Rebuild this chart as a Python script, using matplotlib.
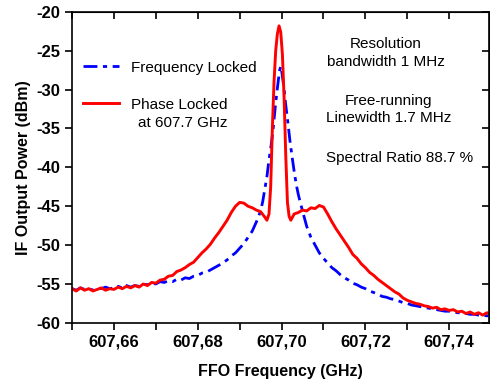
import matplotlib
matplotlib.use("Agg")
import matplotlib.pyplot as plt

plt.rcParams['font.family'] = ['Liberation Sans', 'DejaVu Sans']
plt.rcParams['axes.unicode_minus'] = False

# Frequency locked (blue, dash-dot)
freq_fl = [607.650, 607.651, 607.652, 607.653, 607.654, 607.655, 607.656, 607.657, 607.658, 607.659,
           607.660, 607.661, 607.662, 607.663, 607.664, 607.665, 607.666, 607.667, 607.668, 607.669,
           607.670, 607.671, 607.672, 607.673, 607.674, 607.675, 607.676, 607.677, 607.678, 607.679,
           607.680, 607.681, 607.682, 607.683, 607.684, 607.685, 607.686, 607.687, 607.688, 607.689,
           607.690, 607.691, 607.692, 607.693, 607.694, 607.695, 607.6955, 607.696, 607.6965, 607.697,
           607.6975, 607.698, 607.6985, 607.699, 607.6995, 607.6998, 607.7000, 607.7005, 607.701, 607.7015,
           607.702, 607.7025, 607.703, 607.7035, 607.704, 607.7045, 607.705, 607.7055, 607.706, 607.707,
           607.708, 607.709, 607.710, 607.711, 607.712, 607.713, 607.714, 607.715, 607.716, 607.717,
           607.718, 607.719, 607.720, 607.721, 607.722, 607.723, 607.724, 607.725, 607.726, 607.727,
           607.728, 607.729, 607.730, 607.731, 607.732, 607.733, 607.734, 607.735, 607.736, 607.737,
           607.738, 607.739, 607.740, 607.741, 607.742, 607.743, 607.744, 607.745, 607.746, 607.747,
           607.748, 607.749, 607.750]
power_fl = [-55.6, -55.8, -55.5, -55.7, -55.6, -55.8, -55.5, -55.6, -55.4, -55.6,
            -55.5, -55.3, -55.5, -55.2, -55.4, -55.2, -55.3, -55.0, -55.1, -54.9,
            -55.0, -54.7, -54.8, -54.6, -54.7, -54.4, -54.5, -54.2, -54.3, -54.0,
            -53.9, -53.6, -53.5, -53.2, -52.9, -52.6, -52.3, -51.9, -51.4, -51.0,
            -50.4, -49.8, -49.0, -48.2, -47.0, -45.6, -44.4, -42.8, -41.2, -39.0,
            -37.2, -35.0, -32.2, -29.8, -27.6, -27.0, -27.5, -29.5, -32.0, -34.2,
            -36.6, -38.6, -40.5, -42.2, -43.5, -44.6, -45.6, -46.6, -47.6, -49.0,
            -50.0, -51.0, -51.7, -52.3, -52.9, -53.3, -53.8, -54.2, -54.5, -54.9,
            -55.1, -55.4, -55.6, -55.9, -56.1, -56.3, -56.6, -56.7, -56.9, -57.0,
            -57.2, -57.4, -57.5, -57.7, -57.8, -57.9, -58.0, -58.1, -58.2, -58.3,
            -58.4, -58.5, -58.5, -58.6, -58.7, -58.7, -58.8, -58.9, -58.9, -59.0,
            -59.0, -59.1, -59.0]

# Phase locked (red, solid)
freq_pl = [607.650, 607.651, 607.652, 607.653, 607.654, 607.655, 607.656, 607.657, 607.658, 607.659,
           607.660, 607.661, 607.662, 607.663, 607.664, 607.665, 607.666, 607.667, 607.668, 607.669,
           607.670, 607.671, 607.672, 607.673, 607.674, 607.675, 607.676, 607.677, 607.678, 607.679,
           607.680, 607.681, 607.682, 607.683, 607.684, 607.685, 607.686, 607.687, 607.688, 607.689,
           607.690, 607.691, 607.692, 607.693, 607.694, 607.695, 607.6960, 607.6965, 607.6970, 607.6974,
           607.6978, 607.6982, 607.6986, 607.6990, 607.6994, 607.6998, 607.7002, 607.7006, 607.7010, 607.7014,
           607.7018, 607.7022, 607.7026, 607.703, 607.704, 607.705, 607.706, 607.707, 607.708, 607.709,
           607.710, 607.711, 607.712, 607.713, 607.714, 607.715, 607.716, 607.717, 607.718, 607.719,
           607.720, 607.721, 607.722, 607.723, 607.724, 607.725, 607.726, 607.727, 607.728, 607.729,
           607.730, 607.731, 607.732, 607.733, 607.734, 607.735, 607.736, 607.737, 607.738, 607.739,
           607.740, 607.741, 607.742, 607.743, 607.744, 607.745, 607.746, 607.747, 607.748, 607.749,
           607.750]
power_pl = [-55.6, -55.9, -55.5, -55.8, -55.6, -55.9, -55.7, -55.5, -55.8, -55.6,
            -55.7, -55.4, -55.6, -55.3, -55.5, -55.2, -55.4, -55.0, -55.2, -54.8,
            -54.9, -54.5, -54.4, -54.0, -53.9, -53.4, -53.2, -52.9, -52.5, -52.2,
            -51.6, -51.0, -50.5, -49.9, -49.1, -48.4, -47.6, -46.8, -45.8, -45.0,
            -44.5, -44.6, -45.0, -45.2, -45.5, -45.7, -46.4, -46.8, -46.0, -42.5,
            -35.0, -29.0, -25.0, -22.8, -21.8, -22.6, -25.5, -31.0, -38.5, -44.5,
            -46.3, -46.8, -46.4, -46.0, -45.8, -45.5, -45.6, -45.2, -45.3, -44.9,
            -45.1, -46.0, -47.0, -47.9, -48.7, -49.5, -50.3, -51.2, -51.7, -52.4,
            -52.9, -53.5, -53.9, -54.4, -54.8, -55.2, -55.6, -56.0, -56.3, -56.8,
            -57.1, -57.3, -57.5, -57.6, -57.8, -57.9, -58.1, -58.0, -58.3, -58.2,
            -58.4, -58.3, -58.6, -58.5, -58.8, -58.6, -58.9, -58.7, -59.0, -58.7,
            -58.8]

x_ticks = [607.65, 607.66, 607.67, 607.68, 607.69, 607.70, 607.71, 607.72, 607.73, 607.74]
x_labels = ['', '607,66', '', '607,68', '', '607,70', '', '607,72', '', '607,74']
y_ticks = [-60, -55, -50, -45, -40, -35, -30, -25, -20]

fig = plt.figure(figsize=(4.9, 3.83), dpi=100)
ax = fig.add_axes([0.147, 0.157, 0.851, 0.812])

ax.plot(freq_fl, power_fl, color='#0000ff', lw=2.0, dashes=(5, 2, 1.5, 2),
        label='Frequency Locked')
ax.plot(freq_pl, power_pl, color='#ff0000', lw=2.1, label='Phase Locked')

ax.set_xlim(607.65, 607.7495)
ax.set_ylim(-60, -20)
ax.set_xticks(x_ticks)
ax.set_xticklabels(x_labels)
ax.set_yticks(y_ticks)
ax.tick_params(direction='out', length=5, width=1.2, labelsize=12)
for lab in ax.get_xticklabels() + ax.get_yticklabels():
    lab.set_fontweight('bold')
for sp in ax.spines.values():
    sp.set_linewidth(1.2)

# inward ticks on top and right
top = ax.secondary_xaxis('top')
top.set_xticks(x_ticks)
top.tick_params(direction='in', length=5, width=1.2, labeltop=False)
right = ax.secondary_yaxis('right')
right.set_yticks(y_ticks)
right.tick_params(direction='in', length=5, width=1.2, labelright=False)

ax.set_xlabel('FFO Frequency (GHz)', fontsize=11.5, fontweight='bold', labelpad=10)
ax.set_ylabel('IF Output Power (dBm)', fontsize=11.5, fontweight='bold', labelpad=4)

leg = ax.legend(loc='upper left', bbox_to_anchor=(0.0, 0.878), frameon=False, fontsize=11,
                handlelength=2.35, handletextpad=0.78, labelspacing=1.52, borderaxespad=0.3)
ax.text(607.6765, -34.25, 'at 607.7 GHz', fontsize=11, ha='center', va='center')

ax.text(607.7248, -25.3, 'Resolution\nbandwidth 1 MHz', fontsize=11, ha='center',
        va='center', multialignment='center', linespacing=1.3)
ax.text(607.7255, -32.6, 'Free-running\nLinewidth 1.7 MHz', fontsize=11, ha='center',
        va='center', multialignment='center', linespacing=1.3)
ax.text(607.7107, -38.8, 'Spectral Ratio 88.7 %', fontsize=11, ha='left', va='center')

fig.savefig('out.png', dpi=100)
